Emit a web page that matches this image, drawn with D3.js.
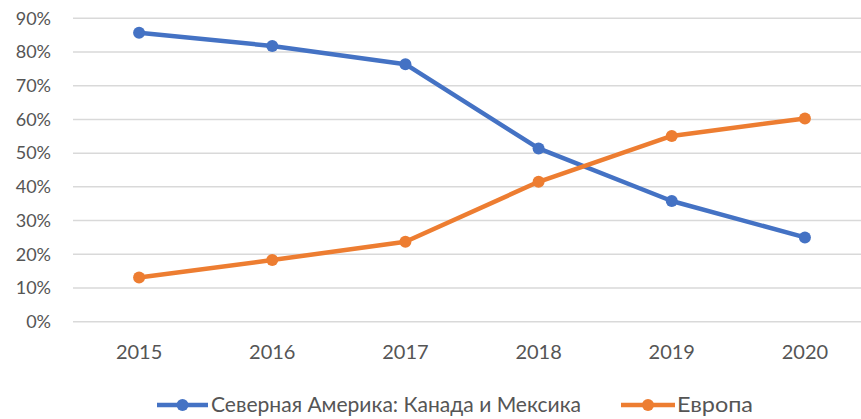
<!DOCTYPE html>
<html><head><meta charset="utf-8">
<script src="https://cdn.jsdelivr.net/npm/d3@7"></script>
<style>body{margin:0;background:#fff}svg{display:block}text{font-family:Lato,"Open Sans",sans-serif;fill:#555}</style>
</head><body><svg id="c" width="861" height="419"></svg>
<script>
const years = ["2015","2016","2017","2018","2019","2020"];
const northAmerica = [0.857, 0.818, 0.764, 0.514, 0.358, 0.250];
const europe = [0.131, 0.183, 0.237, 0.415, 0.551, 0.603];
const yTicks = [0,0.1,0.2,0.3,0.4,0.5,0.6,0.7,0.8,0.9];
const seriesNames = ["Северная Америка: Канада и Мексика", "Европа"];
const colors = ["#4472C4", "#ED7D31"];

const svg = d3.select("#c");
const x = d3.scalePoint().domain(years).range([72.5, 871.5]).padding(0.5);
const y = d3.scaleLinear().domain([0, 0.9]).range([321.7, 18.3]);

svg.append("g").selectAll("line").data(yTicks).join("line")
  .attr("x1", 73).attr("x2", 861)
  .attr("y1", d => y(d)).attr("y2", d => y(d))
  .attr("stroke", "#d9d9d9").attr("stroke-width", 1.5);

svg.append("g").selectAll("text").data(yTicks).join("text")
  .attr("x", 51).attr("y", d => y(d)).attr("dy", "0.35em")
  .attr("text-anchor", "end").attr("font-size", 18)
  .text(d => d3.format(".0%")(d));

svg.append("g").selectAll("text").data(years).join("text")
  .attr("x", d => x(d)).attr("y", 352).attr("dy", "0.35em")
  .attr("text-anchor", "middle").attr("font-size", 20)
  .text(d => d);

const line = d3.line().x((d,i) => x(years[i])).y(d => y(d));
[northAmerica, europe].forEach((s, k) => {
  svg.append("path").datum(s).attr("d", line).attr("fill", "none")
    .attr("stroke", colors[k]).attr("stroke-width", 4.5).attr("stroke-linejoin", "round");
  svg.append("g").selectAll("circle").data(s).join("circle")
    .attr("cx", (d,i) => x(years[i])).attr("cy", d => y(d)).attr("r", 6)
    .attr("fill", colors[k]);
});

const legend = [{x0:157, x1:208, tx:211, w:370, i:0}, {x0:621, x1:675, tx:677, w:76, i:1}];
legend.forEach(l => {
  const g = svg.append("g");
  g.append("line").attr("x1", l.x0).attr("x2", l.x1).attr("y1", 405).attr("y2", 405)
    .attr("stroke", colors[l.i]).attr("stroke-width", 4.5);
  g.append("circle").attr("cx", (l.x0+l.x1)/2).attr("cy", 405).attr("r", 6).attr("fill", colors[l.i]);
  g.append("text").attr("x", l.tx).attr("y", 405).attr("dy", "0.35em").attr("font-size", 21)
    .attr("textLength", l.w).attr("lengthAdjust", "spacingAndGlyphs")
    .text(seriesNames[l.i]);
});
</script></body></html>
